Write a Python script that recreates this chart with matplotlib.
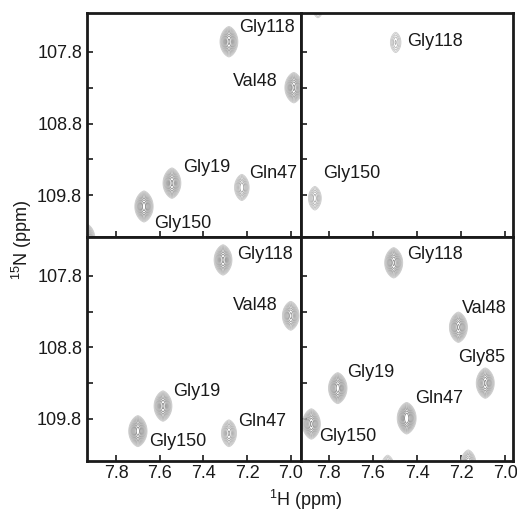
import numpy as np
import matplotlib
matplotlib.use("Agg")
import matplotlib.pyplot as plt

plt.rcParams['font.family'] = ['Liberation Sans', 'DejaVu Sans']
plt.rcParams['mathtext.fontset'] = 'custom'
plt.rcParams['mathtext.rm'] = 'Liberation Sans'
plt.rcParams['mathtext.it'] = 'Liberation Sans:italic'

# ---- data: peaks per panel (1H ppm, 15N ppm, relative intensity) ----
tl_h = [7.283, 6.986, 7.544, 7.224, 7.672, 7.935]
tl_n = [107.66, 108.30, 109.63, 109.69, 109.955, 110.40]
tl_i = [1.0, 1.0, 1.0, 0.55, 1.1, 0.8]

tr_h = [7.497, 7.864, 7.85]
tr_n = [107.67, 109.84, 107.18]
tr_i = [0.28, 0.4, 0.3]

bl_h = [7.31, 7.00, 7.585, 7.70, 7.283]
bl_n = [107.58, 108.36, 109.62, 109.97, 110.0]
bl_i = [1.0, 0.8, 1.0, 1.1, 0.6]

br_h = [7.506, 7.212, 7.09, 7.76, 7.447, 7.88, 7.533, 7.167]
br_n = [107.62, 108.52, 109.30, 109.37, 109.79, 109.87, 110.47, 110.42]
br_i = [1.0, 1.0, 1.0, 1.1, 1.2, 1.0, 0.4, 0.6]

# labels: (text, 1H, 15N, align)
tl_lab = [("Gly118", 7.237, 107.46, 'left'), ("Val48", 7.059, 108.22, 'right'),
          ("Gly19", 7.493, 109.41, 'left'), ("Gln47", 7.192, 109.49, 'left'),
          ("Gly150", 7.626, 110.19, 'left')]
tr_lab = [("Gly118", 7.443, 107.66, 'left'), ("Gly150", 7.827, 109.49, 'left')]
bl_lab = [("Gly118", 7.246, 107.51, 'left'), ("Val48", 7.059, 108.22, 'right'),
          ("Gly19", 7.539, 109.41, 'left'), ("Gln47", 7.242, 109.83, 'left'),
          ("Gly150", 7.649, 110.11, 'left')]
br_lab = [("Gly118", 7.447, 107.51, 'left'), ("Val48", 7.198, 108.26, 'left'),
          ("Gly85", 7.212, 108.94, 'left'), ("Gly19", 7.719, 109.15, 'left'),
          ("Gln47", 7.41, 109.51, 'left'), ("Gly150", 7.845, 110.04, 'left')]

h_ticks = [7.8, 7.6, 7.4, 7.2, 7.0]
n_ticks = [107.8, 108.8, 109.8]
n_minor = [108.3, 109.3]

fig = plt.figure(figsize=(5.17, 5.12), dpi=100)
W, H = 517, 512
def axrect(x0, x1, y0, y1):
    return [x0 / W, 1 - y1 / H, (x1 - x0) / W, (y1 - y0) / H]

panels = [
    (axrect(87, 301, 13, 237), tl_h, tl_n, tl_i, tl_lab, (7.933, 6.953), True, False),
    (axrect(301, 513, 13, 237), tr_h, tr_n, tr_i, tr_lab, (7.927, 6.964), False, False),
    (axrect(87, 301, 237, 460.5), bl_h, bl_n, bl_i, bl_lab, (7.933, 6.953), True, True),
    (axrect(301, 513, 237, 460.5), br_h, br_n, br_i, br_lab, (7.927, 6.964), False, True),
]

levels = 0.1 * 1.28 ** np.arange(0, 10)
cols = [plt.cm.gray(v) for v in np.linspace(0.80, 0.52, len(levels))]
sx, sy = 0.0235, 0.14

for rect, hs, ns, ii, labs, xl, ylab, xlab in panels:
    ax = fig.add_axes(rect)
    gx = np.linspace(8.1, 6.8, 700)
    gy = np.linspace(106.9, 110.8, 600)
    X, Y = np.meshgrid(gx, gy)
    Z = np.zeros_like(X)
    for h, n, a in zip(hs, ns, ii):
        Z += a * np.exp(-np.abs((X - h) / sx) ** 1.5 - ((Y - n) / sy) ** 2)
    ax.contour(X, Y, Z, levels=levels, colors=cols, linewidths=0.6)
    for t, h, n, al in labs:
        ax.text(h, n, t, ha=al, va='center', fontsize=13, color='#1a1a1a')
    ax.set_xlim(*xl)
    ax.set_ylim(110.38, 107.26)
    ax.set_xticks(h_ticks)
    ax.set_yticks(n_ticks)
    ax.set_yticks(n_minor, minor=True)
    ax.set_xticklabels([f"{v:.1f}" for v in h_ticks] if xlab else [])
    ax.set_yticklabels([f"{v:.1f}" for v in n_ticks] if ylab else [])
    ax.tick_params(which='both', direction='in', length=4, width=1.2,
                   top=False, right=False, labelsize=13, colors='#1a1a1a')
    for s in ax.spines.values():
        s.set_linewidth(2.0)
        s.set_color('#1a1a1a')

fig.text(22 / W, 1 - 240 / H, r'$^{15}$N (ppm)', rotation=90, ha='center', va='center', fontsize=13, color='#1a1a1a')
fig.text(306 / W, 1 - 500 / H, r'$^{1}$H (ppm)', ha='center', va='center', fontsize=13, color='#1a1a1a')

fig.savefig("out.png", dpi=100)
